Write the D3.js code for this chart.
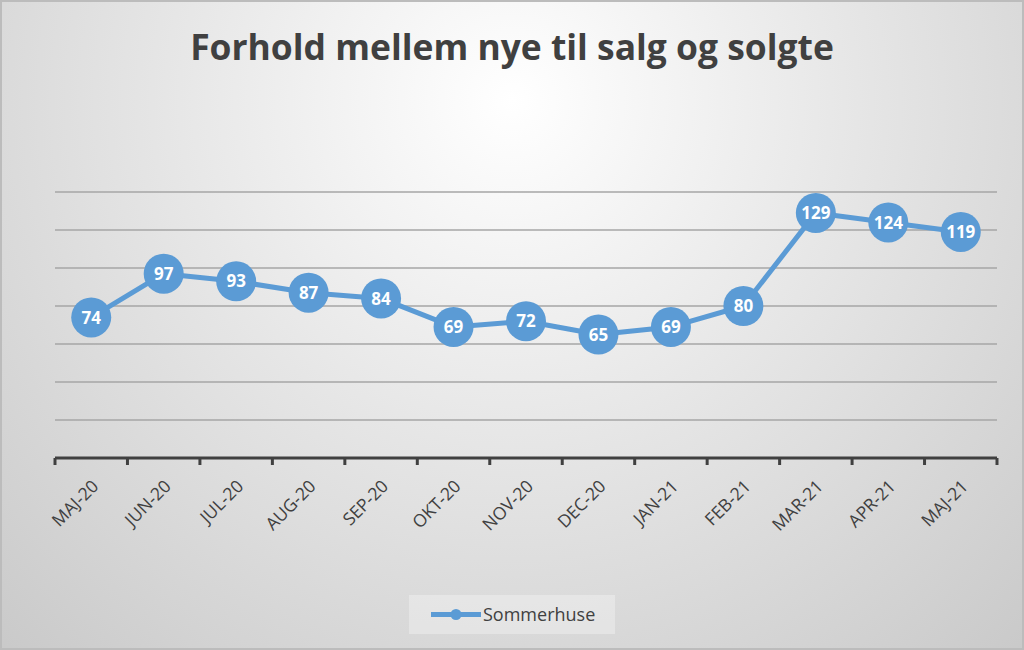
<!DOCTYPE html>
<html>
<head>
<meta charset="utf-8">
<script src="https://cdn.jsdelivr.net/npm/d3@7"></script>
<style>
  body { margin: 0; background: #fff; }
  svg { display: block; font-family: "Open Sans", sans-serif; }
</style>
</head>
<body>
<div id="chart"></div>
<script>
// chart data
const months = ["MAJ-20", "JUN-20", "JUL-20", "AUG-20", "SEP-20", "OKT-20", "NOV-20",
                "DEC-20", "JAN-21", "FEB-21", "MAR-21", "APR-21", "MAJ-21"];
const sommerhuse = [74, 97, 93, 87, 84, 69, 72, 65, 69, 80, 129, 124, 119];
const yTicks = [0, 20, 40, 60, 80, 100, 120, 140];
const seriesName = "Sommerhuse";
const title = "Forhold mellem nye til salg og solgte";

const W = 1024, H = 650;
const margin = {top: 192, right: 27, bottom: 192, left: 55};
const width = W - margin.left - margin.right;
const height = H - margin.top - margin.bottom;
const blue = "#5b9bd5";
const textCol = "#404040";

const svg = d3.select("#chart").append("svg")
    .attr("width", W)
    .attr("height", H);

// background gradient
const defs = svg.append("defs");
const grad = defs.append("radialGradient")
    .attr("id", "bg")
    .attr("gradientUnits", "userSpaceOnUse")
    .attr("cx", 512).attr("cy", 100).attr("r", 800);
grad.append("stop").attr("offset", "0%").attr("stop-color", "#ffffff");
grad.append("stop").attr("offset", "45%").attr("stop-color", "#e5e5e5");
grad.append("stop").attr("offset", "100%").attr("stop-color", "#c6c6c6");

svg.append("rect")
    .attr("x", 1).attr("y", 1)
    .attr("width", W - 2).attr("height", H - 2)
    .attr("fill", "url(#bg)")
    .attr("stroke", "#bcbcbc")
    .attr("stroke-width", 2);

// title, sized to the reference width
const titleText = svg.append("text")
    .attr("x", W / 2).attr("y", 60)
    .attr("text-anchor", "middle")
    .attr("font-weight", "bold")
    .attr("font-size", 34)
    .attr("fill", textCol)
    .text(title);
const tw = titleText.node().getComputedTextLength();
titleText.attr("font-size", 34 * 644 / tw);

const g = svg.append("g")
    .attr("transform", "translate(" + margin.left + "," + margin.top + ")");

const x = d3.scaleBand().domain(months).range([0, width]);
const y = d3.scaleLinear().domain([0, 140]).range([height, 0]);

// gridlines
g.selectAll(".grid")
    .data(yTicks.slice(1))
    .enter().append("line")
    .attr("class", "grid")
    .attr("x1", 0).attr("x2", width)
    .attr("y1", d => y(d)).attr("y2", d => y(d))
    .attr("stroke", "#a6a6a6")
    .attr("stroke-width", 1.5);

// x axis
const xAxis = g.append("g")
    .attr("transform", "translate(0," + height + ")");
xAxis.append("line")
    .attr("x1", 0).attr("x2", width)
    .attr("stroke", "#404040").attr("stroke-width", 3);
xAxis.selectAll(".tick")
    .data(d3.range(months.length + 1))
    .enter().append("line")
    .attr("x1", i => i * x.step()).attr("x2", i => i * x.step())
    .attr("y1", 0).attr("y2", 7)
    .attr("stroke", "#404040").attr("stroke-width", 3);
xAxis.selectAll(".lbl")
    .data(months)
    .enter().append("text")
    .attr("transform", d => "translate(" + (x(d) + x.bandwidth() / 2 + 4) + ",25) rotate(-45)")
    .attr("text-anchor", "end")
    .attr("dy", "0.35em")
    .attr("font-size", 17.5)
    .attr("fill", textCol)
    .text(d => d);

// line and markers
const pts = months.map((m, i) => ({m: m, v: sommerhuse[i]}));
const line = d3.line()
    .x(d => x(d.m) + x.bandwidth() / 2)
    .y(d => y(d.v));

g.append("path")
    .datum(pts)
    .attr("d", line)
    .attr("fill", "none")
    .attr("stroke", blue)
    .attr("stroke-width", 5)
    .attr("stroke-linejoin", "round");

g.selectAll(".dot")
    .data(pts)
    .enter().append("circle")
    .attr("cx", d => x(d.m) + x.bandwidth() / 2)
    .attr("cy", d => y(d.v))
    .attr("r", 20)
    .attr("fill", blue);

g.selectAll(".val")
    .data(pts)
    .enter().append("text")
    .attr("x", d => x(d.m) + x.bandwidth() / 2)
    .attr("y", d => y(d.v))
    .attr("dy", "0.36em")
    .attr("text-anchor", "middle")
    .attr("font-weight", "bold")
    .attr("font-size", 17)
    .attr("fill", "#ffffff")
    .text(d => d.v);

// legend
const leg = svg.append("g").attr("transform", "translate(409,595)");
leg.append("rect")
    .attr("width", 206).attr("height", 39)
    .attr("fill", "#ffffff").attr("fill-opacity", 0.3);
leg.append("line")
    .attr("x1", 22).attr("x2", 72).attr("y1", 19.5).attr("y2", 19.5)
    .attr("stroke", blue).attr("stroke-width", 5);
leg.append("circle")
    .attr("cx", 47).attr("cy", 19.5).attr("r", 5.5)
    .attr("fill", blue);
leg.append("text")
    .attr("x", 74).attr("y", 19.5)
    .attr("dy", "0.35em")
    .attr("font-size", 18)
    .attr("fill", textCol)
    .text(seriesName);
</script>
</body>
</html>
